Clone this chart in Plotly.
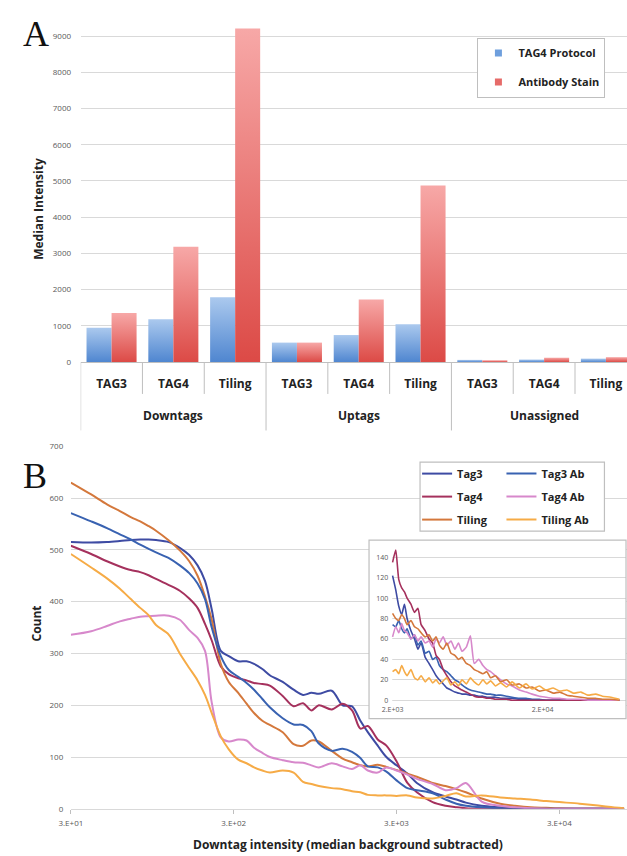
import math
import plotly.graph_objects as go

# ---------------- Panel A data ----------------
group_names = ["Downtags", "Uptags", "Unassigned"]
tag_names = ["TAG3", "TAG4", "Tiling"]
tag4_protocol = [946, 1183, 1790, 537, 746, 1046, 60, 70, 95]
antibody_stain = [1354, 3180, 9210, 537, 1727, 4877, 50, 120, 135]
a_yticks = [0, 1000, 2000, 3000, 4000, 5000, 6000, 7000, 8000, 9000]

# ---------------- Panel B data ----------------
b_x = [30, 40, 50, 60, 70, 80, 90, 100, 120, 140, 160, 180, 200, 220, 250, 280, 320, 360,
       400, 450, 500, 600, 700, 800, 900, 1000, 1200, 1400, 1600, 1800, 2000, 2300, 2600,
       3000, 3500, 4000, 5000, 6000, 7000, 8000, 10000, 13000, 16000, 20000, 25000, 30000,
       40000, 50000, 60000, 75000]
b_tag3 = [515, 514, 515, 517, 519, 520, 520, 519, 515, 504, 490, 470, 440, 385, 305, 295, 285,
          285, 280, 270, 258, 245, 230, 220, 224, 222, 228, 200, 198, 170, 148, 122, 100, 84,
          68, 50, 32, 24, 18, 12, 6, 3, 1, 0, 0, 0, 0, 0, 0, 0]
b_tag3_ab = [571, 555, 542, 530, 520, 510, 502, 495, 484, 470, 455, 435, 405, 350, 295, 268,
             255, 243, 230, 212, 196, 175, 163, 162, 150, 126, 112, 116, 110, 98, 82, 80, 72,
             55, 40, 36, 30, 18, 10, 6, 3, 1, 0, 0, 0, 0, 0, 0, 0, 0]
b_tag4 = [508, 492, 478, 468, 461, 457, 451, 444, 432, 421, 406, 388, 357, 325, 275, 260, 252,
          248, 243, 241, 238, 218, 198, 204, 190, 200, 192, 203, 190, 155, 160, 134, 122, 92,
          50, 32, 13, 6, 3, 1, 0, 0, 0, 0, 0, 0, 0, 0, 0, 0]
b_tag4_ab = [336, 343, 353, 362, 367, 371, 372, 373, 373, 365, 345, 330, 305, 205, 138, 130,
             134, 132, 118, 108, 100, 94, 90, 89, 84, 80, 88, 82, 77, 84, 74, 70, 80, 74, 66,
             58, 48, 36, 40, 50, 14, 6, 3, 1, 0, 0, 0, 0, 0, 0]
b_tiling = [630, 607, 588, 575, 563, 555, 546, 537, 518, 499, 478, 450, 410, 365, 280, 245,
            224, 203, 185, 170, 162, 148, 125, 122, 132, 130, 112, 97, 90, 84, 82, 85, 81, 75,
            68, 62, 50, 44, 38, 32, 20, 10, 6, 3, 2, 1, 0, 0, 0, 0]
b_tiling_ab = [492, 466, 445, 425, 405, 388, 374, 355, 336, 300, 272, 248, 220, 185, 140, 115,
               95, 88, 80, 74, 70, 74, 70, 52, 48, 44, 40, 38, 34, 32, 27, 26, 26, 25, 26, 22,
               20, 25, 30, 24, 26, 22, 20, 18, 15, 13, 10, 7, 4, 1]
b_xticks = [30, 300, 3000, 30000]
b_xtick_text = ["3.E+01", "3.E+02", "3.E+03", "3.E+04"]

# ---------------- Inset data ----------------
in_x = [2000, 2100, 2200, 2300, 2400, 2500, 2650, 2800, 2950, 3100, 3300, 3500, 3700, 3900,
        4100, 4350, 4600, 4900, 5200, 5500, 5800, 6200, 6600, 7000, 7500, 8000, 8500, 9000,
        9700, 10500, 11500, 12500, 14000, 15500, 17000, 19000, 21000, 23500, 26000, 29000,
        32000, 36000, 40000, 45000, 50000, 57000, 65000]
in_tag3 = [122, 108, 92, 84, 94, 80, 68, 60, 50, 56, 42, 36, 30, 24, 20, 16, 12, 10, 8, 7, 6,
           6, 5, 5, 4, 4, 3, 3, 3, 2, 2, 2, 1, 1, 0, 0, 0, 0, 0, 0, 0, 0, 0, 0, 0, 0, 0]
in_tag3_ab = [74, 72, 78, 70, 66, 70, 60, 64, 54, 58, 46, 48, 40, 42, 34, 30, 28, 24, 20, 18,
              15, 12, 10, 9, 8, 7, 6, 6, 5, 5, 4, 3, 2, 2, 1, 1, 0, 0, 0, 0, 0, 0, 0, 0, 0, 0, 0]
in_tag4 = [135, 147, 118, 110, 106, 100, 94, 86, 90, 74, 68, 60, 56, 44, 40, 30, 24, 18, 14,
           12, 10, 8, 6, 4, 3, 3, 2, 2, 1, 1, 1, 0, 0, 0, 0, 0, 0, 0, 0, 0, 0, 0, 0, 0, 0, 0, 0]
in_tag4_ab = [62, 72, 66, 75, 68, 66, 60, 64, 58, 62, 56, 58, 52, 60, 56, 62, 54, 58, 50, 56,
              48, 52, 63, 36, 40, 34, 30, 28, 24, 20, 16, 14, 10, 8, 6, 4, 3, 2, 2, 1, 1, 1,
              0, 0, 0, 0, 0]
in_tiling = [85, 80, 78, 84, 80, 74, 78, 72, 70, 66, 62, 64, 58, 62, 54, 50, 56, 46, 44, 40,
             42, 36, 34, 30, 28, 26, 28, 22, 24, 18, 20, 15, 16, 12, 13, 9, 10, 7, 8, 5, 4, 3,
             2, 2, 1, 1, 0]
in_tiling_ab = [28, 30, 26, 34, 28, 24, 30, 22, 20, 24, 18, 22, 17, 20, 16, 19, 22, 15, 18, 14,
                20, 16, 22, 18, 15, 20, 16, 19, 14, 17, 13, 18, 12, 16, 11, 14, 10, 12, 9, 10,
                7, 8, 5, 6, 4, 3, 1]
in_xticks = [2000, 20000]
in_xtick_text = ["2.E+03", "2.E+04"]
in_yticks = [0, 20, 40, 60, 80, 100, 120, 140]

# ---------------- styling ----------------
W, H = 627, 856
def pxx(p):
    return p / W
def pxy(p):
    return 1 - p / H

FONT = "Open Sans"
TXT = "#222222"
TICK = "#595959"
GRID = "#D9D9D9"
LINE = "#BFBFBF"

BLUE_CS = [[0, "#4F86D0"], [1, "#ABC9EE"]]
RED_CS = [[0, "#DC4A46"], [1, "#F7A8A7"]]

series_colors = {
    "Tag3": "#3E4BA3", "Tag3 Ab": "#3962B1",
    "Tag4": "#A5315D", "Tag4 Ab": "#D788CB",
    "Tiling": "#D4783C", "Tiling Ab": "#F6AB46",
}

fig = go.Figure()

# ---- Panel A: bars with vertical gradient, built from the data
half = 0.405
for i in range(len(tag4_protocol)):
    for vals, side, cs, fc in ((tag4_protocol, -1, BLUE_CS, "#7DA8E0"),
                               (antibody_stain, 1, RED_CS, "#EA7774")):
        v = vals[i]
        x0, x1 = (i - half, i) if side < 0 else (i, i + half)
        fig.add_trace(go.Scatter(
            x=[x0, x0, x1, x1, x0], y=[0, v, v, 0, 0], mode="lines",
            line=dict(width=0, color=fc), fill="toself", fillcolor=fc,
            fillgradient=dict(type="vertical", colorscale=cs),
            hoverinfo="skip", showlegend=False, xaxis="x", yaxis="y"))

fig.add_trace(go.Scatter(x=[None], y=[None], mode="markers", name="TAG4 Protocol",
                         marker=dict(symbol="square", size=7, color="#6E9FDD"),
                         legend="legend", legendgroup="p", xaxis="x", yaxis="y"))
fig.add_trace(go.Scatter(x=[None], y=[None], mode="markers", name="Antibody Stain",
                         marker=dict(symbol="square", size=7, color="#E66B69"),
                         legend="legend", legendgroup="a", xaxis="x", yaxis="y"))

# ---- Panel B main curves
main_series = [("Tag3", b_tag3, "legend2"), ("Tag4", b_tag4, "legend2"),
               ("Tiling", b_tiling, "legend2"), ("Tag3 Ab", b_tag3_ab, "legend3"),
               ("Tag4 Ab", b_tag4_ab, "legend3"), ("Tiling Ab", b_tiling_ab, "legend3")]
for name, vals, lg in main_series:
    fig.add_trace(go.Scatter(
        x=b_x, y=vals, mode="lines", name=name, legend=lg, legendgroup=name,
        line=dict(color=series_colors[name], width=2, shape="spline", smoothing=0.9),
        xaxis="x2", yaxis="y2", hoverinfo="skip"))

# ---- Inset curves
inset_series = [("Tag3", in_tag3), ("Tag3 Ab", in_tag3_ab), ("Tag4", in_tag4),
                ("Tag4 Ab", in_tag4_ab), ("Tiling", in_tiling), ("Tiling Ab", in_tiling_ab)]
for name, vals in inset_series:
    fig.add_trace(go.Scatter(
        x=in_x, y=vals, mode="lines", name=name, showlegend=False,
        line=dict(color=series_colors[name], width=1.6, shape="spline", smoothing=0.5),
        xaxis="x3", yaxis="y3", hoverinfo="skip"))

# ---- axes
nA = len(tag4_protocol)
a_x0_px, a_right_px, cat_w = 70, 627, 63.0
a_range = [-0.5, -0.5 + (a_right_px - a_x0_px) / cat_w]
a_y0_px, a_unit = 360.7, 36.7 / 1000.0
tickfont = dict(family=FONT, size=8, color=TICK)
bold = dict(family=FONT, size=12, color=TXT, weight="bold")

b_left, b_zero_px, b_top_px, b_dec = 60, 813.3, 446, 166.0
in_left, in_right, in_top, in_bot = 364, 626, 541, 722
in_x0_px, in_dec, in_zero_px, in_unit = 388, 153.0, 703.3, 1.035

fig.update_layout(
    width=W, height=H, margin=dict(l=0, r=0, t=0, b=0),
    paper_bgcolor="white", plot_bgcolor="white",
    font=dict(family=FONT, color=TXT),
    xaxis=dict(domain=[pxx(a_x0_px), 1], range=a_range, anchor="y",
               tickmode="array", tickvals=list(range(nA)),
               ticktext=[t for g in group_names for t in tag_names],
               tickfont=bold, ticks="outside", ticklen=11, tickcolor="rgba(0,0,0,0)",
               showgrid=False, zeroline=False, showline=True, linecolor=LINE),
    yaxis=dict(domain=[pxy(a_y0_px), 1], range=[0, a_y0_px / a_unit], anchor="x",
               tickmode="array", tickvals=a_yticks, tickfont=tickfont,
               ticks="outside", ticklen=7, tickcolor="rgba(0,0,0,0)",
               gridcolor=GRID, zeroline=False, showline=False),
    xaxis2=dict(type="log", domain=[pxx(b_left), 1], anchor="y2",
                range=[math.log10(30), math.log10(30) + (627 - b_left) / b_dec],
                tickmode="array", tickvals=b_xticks, ticktext=b_xtick_text, tickfont=tickfont,
                ticks="outside", ticklen=4, tickcolor=LINE, ticklabelstandoff=3,
                showgrid=False, zeroline=False, showline=True, linecolor=GRID),
    yaxis2=dict(domain=[pxy(b_zero_px), pxy(b_top_px)], range=[0, 700], anchor="x2",
                tickmode="array", tickvals=[0, 100, 200, 300, 400, 500, 600, 700],
                tickfont=tickfont, ticks="outside", ticklen=5, tickcolor="rgba(0,0,0,0)",
                gridcolor=GRID, zeroline=False, showline=False),
    xaxis3=dict(type="log", domain=[pxx(in_left), pxx(in_right)], anchor="free",
                position=pxy(in_zero_px),
                range=[math.log10(2000) - (in_x0_px - in_left) / in_dec,
                       math.log10(2000) + (in_right - in_x0_px) / in_dec],
                tickmode="array", tickvals=in_xticks, ticktext=in_xtick_text,
                tickfont=dict(family=FONT, size=7, color=TICK), ticks="outside", ticklen=2,
                tickcolor="rgba(0,0,0,0)", showgrid=False, zeroline=False, showline=False),
    yaxis3=dict(domain=[pxy(in_bot), pxy(in_top)], anchor="free", position=pxx(in_x0_px),
                range=[-(in_bot - in_zero_px) / in_unit, (in_zero_px - in_top) / in_unit],
                tickmode="array", tickvals=in_yticks,
                tickfont=dict(family=FONT, size=7, color=TICK), ticks="outside", ticklen=3,
                tickcolor="rgba(0,0,0,0)", gridcolor=GRID, zeroline=False, showline=False),
    legend=dict(x=pxx(605), xanchor="right", y=pxy(32), yanchor="top",
                bgcolor="white", bordercolor=LINE, borderwidth=1,
                font=dict(family=FONT, size=11, color=TXT, weight="bold"),
                traceorder="grouped", tracegroupgap=10),
    legend2=dict(x=pxx(413), xanchor="left", y=pxy(459), yanchor="top",
                 bgcolor="rgba(0,0,0,0)", borderwidth=0,
                 font=dict(family=FONT, size=11, color=TXT, weight="bold"),
                 traceorder="grouped", tracegroupgap=4),
    legend3=dict(x=pxx(499), xanchor="left", y=pxy(459), yanchor="top",
                 bgcolor="rgba(0,0,0,0)", borderwidth=0,
                 font=dict(family=FONT, size=11, color=TXT, weight="bold"),
                 traceorder="grouped", tracegroupgap=4),
)

shapes = []
# category separators for panel A
for b in range(nA + 1):
    xb = b - 0.5
    long_sep = (b % 3 == 0)
    shapes.append(dict(type="line", xref="x", yref="paper", x0=xb, x1=xb,
                       y0=pxy(a_y0_px), y1=pxy(430 if long_sep else 393),
                       line=dict(color=LINE, width=1)))
# inset white background (above main panel, below inset grid)
shapes.append(dict(type="rect", xref="x3", yref="y3", x0=10, x1=1e7, y0=-1000, y1=1000,
                   fillcolor="white", line=dict(width=0), layer="below"))
# hide inset grid left of its value axis
shapes.append(dict(type="rect", xref="x3", yref="y3", x0=10, x1=1990, y0=-1000, y1=1000,
                   fillcolor="white", line=dict(width=0), layer="between"))
# inset border
shapes.append(dict(type="rect", xref="paper", yref="paper", x0=pxx(in_left), x1=pxx(in_right),
                   y0=pxy(in_bot), y1=pxy(in_top), line=dict(color=LINE, width=1.2),
                   fillcolor="rgba(0,0,0,0)", layer="above"))
# panel B legend box
shapes.append(dict(type="rect", xref="paper", yref="paper", x0=pxx(416), x1=pxx(604),
                   y0=pxy(532), y1=pxy(462), line=dict(color=LINE, width=1.2),
                   fillcolor="white", layer="above"))
fig.update_layout(shapes=shapes)

annotations = []
for gi, g in enumerate(group_names):
    annotations.append(dict(text=g, xref="x", yref="paper", x=gi * 3 + 1, y=pxy(415),
                            showarrow=False, font=bold, xanchor="center", yanchor="middle"))
center = dict(xanchor="center", yanchor="middle", showarrow=False, xref="paper", yref="paper")
annotations += [
    dict(text="Median Intensity", x=pxx(27), y=pxy(205), textangle=-90, font=bold, **center),
    dict(text="Count", x=pxx(25), y=pxy(626), textangle=-90, font=bold, **center),
    dict(text="Downtag intensity (median background subtracted)", x=pxx(343), y=pxy(849),
         font=bold, **center),
    dict(text="A", x=pxx(24), y=pxy(28),
         font=dict(family="Liberation Serif", size=36, color="#111111"), **center),
    dict(text="B", x=pxx(23), y=pxy(476),
         font=dict(family="Liberation Serif", size=36, color="#111111"), **center),
]
fig.update_layout(annotations=annotations)

fig.write_html("out.html", config={"displayModeBar": False},
               post_script="document.body.style.margin='0px';"
                           "document.body.style.overflow='hidden';")
